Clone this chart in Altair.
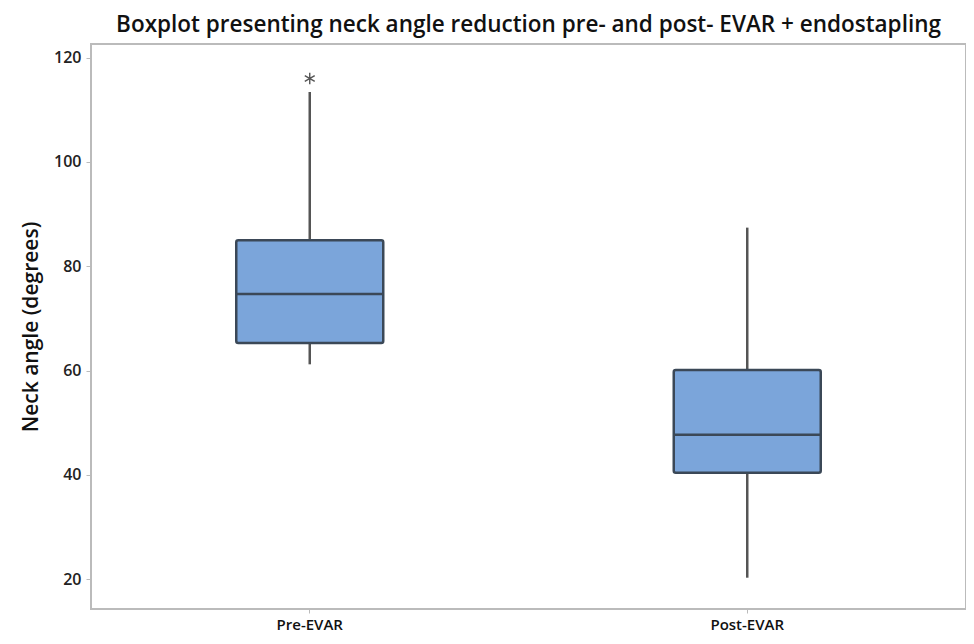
import altair as alt
import pandas as pd

groups = ["Pre-EVAR", "Post-EVAR"]
lower = [61.2, 20.3]
q1 = [65.3, 40.4]
median = [74.7, 47.7]
q3 = [85.0, 60.1]
upper = [113.4, 87.4]

outlier_group = ["Pre-EVAR"]
outlier_value = [116.0]

df = pd.DataFrame({"group": groups, "lower": lower, "q1": q1,
                   "median": median, "q3": q3, "upper": upper})
dfo = pd.DataFrame({"group": outlier_group, "value": outlier_value})

xscale = alt.Scale(domain=groups, paddingInner=0.2, paddingOuter=0.1)
yscale = alt.Scale(domain=[14.3, 122.6], nice=False, zero=False)

x = alt.X("group:N", scale=xscale, sort=groups, title=None,
          axis=alt.Axis(labelAngle=0, labelFont="Open Sans", labelFontSize=15,
                        labelFontWeight=600, labelColor="#111", labelPadding=4,
                        domain=False, tickColor="#bbb", tickSize=4))
yaxis = alt.Axis(values=[20, 40, 60, 80, 100, 120], grid=False, domain=False,
                 labelFont="Open Sans", labelFontSize=16, labelFontWeight=600,
                 labelColor="#222", tickColor="#bbb", tickSize=5, labelPadding=5,
                 title="Neck angle (degrees)", titleFont="Open Sans",
                 titleFontSize=21, titleFontWeight=600, titleColor="#111",
                 titlePadding=12)

whisk_lo = alt.Chart(df).mark_rule(color="#555", strokeWidth=2.5).encode(
    x=x, y=alt.Y("lower:Q", scale=yscale, axis=yaxis), y2="q1:Q")
whisk_hi = alt.Chart(df).mark_rule(color="#555", strokeWidth=2.5).encode(
    x=x, y=alt.Y("q3:Q", scale=yscale, axis=yaxis), y2="upper:Q")
box = alt.Chart(df).mark_bar(size=147, color="#7BA5DA", stroke="#3b4857",
                             strokeWidth=2.5, cornerRadius=2).encode(
    x=x, y=alt.Y("q1:Q", scale=yscale, axis=yaxis), y2="q3:Q")
med = alt.Chart(df).mark_tick(size=147, thickness=2.5, color="#3b4857",
                              opacity=1).encode(
    x=x, y=alt.Y("median:Q", scale=yscale, axis=yaxis))
outl = alt.Chart(dfo).mark_point(
    shape="M0,-1L0,1M-0.87,-0.5L0.87,0.5M-0.87,0.5L0.87,-0.5",
    size=130, filled=False, stroke="#555", strokeWidth=1.4, opacity=1).encode(
    x=x, y=alt.Y("value:Q", scale=yscale, axis=yaxis))

chart = alt.layer(whisk_lo, whisk_hi, box, med, outl).properties(
    width=875, height=565,
    title=alt.TitleParams("Boxplot presenting neck angle reduction pre- and post- EVAR + endostapling",
                          font="Open Sans", fontSize=22.5, fontWeight=600,
                          color="#111", offset=8, anchor="middle"),
    padding={"left": 12, "top": 5, "right": 0, "bottom": 0}
).configure_view(stroke="#bbb", strokeWidth=2)

chart.save("out.html", embed_options={"renderer": "svg", "actions": False})
